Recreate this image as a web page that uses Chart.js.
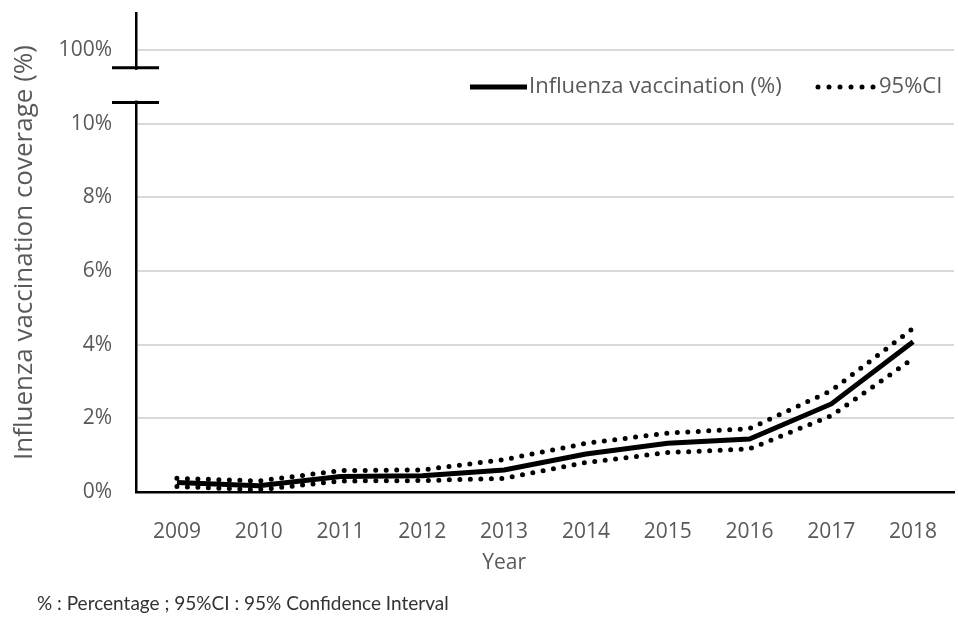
<!DOCTYPE html>
<html>
<head>
<meta charset="utf-8">
<script src="https://cdn.jsdelivr.net/npm/chart.js@4.4.1/dist/chart.umd.min.js"></script>
<style>
  html, body { margin: 0; padding: 0; background: #ffffff; }
  #wrap { position: relative; width: 958px; height: 625px; }
</style>
</head>
<body>
<div id="wrap"><canvas id="c" width="958" height="625"></canvas></div>
<script>
const years = ['2009','2010','2011','2012','2013','2014','2015','2016','2017','2018'];
const coverage = [0.26, 0.17, 0.42, 0.44, 0.60, 1.03, 1.32, 1.44, 2.39, 4.08];
const ciUpper  = [0.37, 0.30, 0.58, 0.60, 0.88, 1.32, 1.60, 1.72, 2.75, 4.44];
const ciLower  = [0.15, 0.06, 0.30, 0.31, 0.37, 0.80, 1.07, 1.17, 2.07, 3.62];
const yTickValues = [0, 2, 4, 6, 8, 10, 12];
const yTickLabels = ['0%', '2%', '4%', '6%', '8%', '10%', '100%'];
const seriesNames = ['Influenza vaccination (%)', '95%CI'];
const axisTitles = { x: 'Year', y: 'Influenza vaccination coverage (%)' };
const footnote = '% : Percentage ; 95%CI : 95% Confidence Interval';

const FONT = '"Open Sans", sans-serif';
const TXT = '#595959';

const decor = {
  id: 'decor',
  afterDraw(chart) {
    const ctx = chart.ctx;
    const y = chart.scales.y;
    const ax = chart.chartArea.left;
    const yTop = y.getPixelForValue(12) + 18;
    const yBot = y.getPixelForValue(10) - 21;
    ctx.save();
    // axis break
    ctx.fillStyle = '#ffffff';
    ctx.fillRect(ax - 4, yTop + 2, 8, yBot - yTop - 4);
    ctx.strokeStyle = '#000000';
    ctx.lineWidth = 3;
    ctx.beginPath();
    ctx.moveTo(ax - 24, yTop); ctx.lineTo(ax + 23, yTop);
    ctx.moveTo(ax - 24, yBot); ctx.lineTo(ax + 23, yBot);
    ctx.stroke();

    // legend
    const ly = 87;
    ctx.lineCap = 'butt';
    ctx.lineWidth = 5;
    ctx.beginPath();
    ctx.moveTo(470, ly); ctx.lineTo(527, ly);
    ctx.stroke();
    ctx.font = '22px ' + FONT;
    ctx.fillStyle = TXT;
    ctx.textBaseline = 'middle';
    ctx.textAlign = 'left';
    ctx.fillText(seriesNames[0], 529, ly);
    ctx.lineCap = 'round';
    ctx.setLineDash([0, 11]);
    ctx.beginPath();
    ctx.moveTo(818, ly); ctx.lineTo(874, ly);
    ctx.stroke();
    ctx.setLineDash([]);
    ctx.fillText(seriesNames[1], 879, ly);

    // x axis title
    ctx.font = '21px ' + FONT;
    ctx.textAlign = 'center';
    ctx.fillText(axisTitles.x, chart.scales.x.getPixelForValue(4), 563);

    // footnote
    ctx.font = '19px Lato, ' + FONT;
    ctx.fillStyle = '#333333';
    ctx.textAlign = 'left';
    ctx.textBaseline = 'alphabetic';
    ctx.fillText(footnote, 37, 610);
    ctx.restore();
  }
};

new Chart(document.getElementById('c'), {
  type: 'line',
  data: {
    labels: years,
    datasets: [
      { label: seriesNames[1] + ' upper', data: ciUpper, borderColor: '#000', borderWidth: 5,
        borderDash: [0, 10.5], borderCapStyle: 'round', pointRadius: 0, tension: 0, fill: false },
      { label: seriesNames[1] + ' lower', data: ciLower, borderColor: '#000', borderWidth: 5,
        borderDash: [0, 10.5], borderCapStyle: 'round', pointRadius: 0, tension: 0, fill: false },
      { label: seriesNames[0], data: coverage, borderColor: '#000', borderWidth: 5,
        pointRadius: 0, tension: 0, fill: false }
    ]
  },
  options: {
    responsive: false,
    animation: false,
    layout: { padding: { top: 13, right: 4, left: 0, bottom: 50 } },
    plugins: { legend: { display: false }, tooltip: { enabled: false } },
    scales: {
      x: {
        offset: true,
        afterFit(scale) { scale.height = 83; scale.paddingLeft = 0; scale.paddingRight = 0; },
        grid: { display: false, drawTicks: false },
        border: { display: true, color: '#000', width: 2.5 },
        ticks: { color: TXT, font: { family: FONT, size: 21 }, padding: 27, maxRotation: 0 }
      },
      y: {
        min: 0, max: 13,
        afterBuildTicks(scale) { scale.ticks = yTickValues.map(v => ({ value: v })); },
        afterFit(scale) { scale.width = 136; scale.paddingTop = 0; scale.paddingBottom = 0; },
        grid: { color: '#d9d9d9', lineWidth: 2, drawTicks: false },
        border: { display: true, color: '#000', width: 2.5 },
        ticks: {
          color: TXT, font: { family: FONT, size: 21 }, padding: 24,
          callback(v) { const i = yTickValues.indexOf(v); return i >= 0 ? yTickLabels[i] : ''; }
        },
        title: { display: true, text: axisTitles.y, color: TXT, font: { family: FONT, size: 26 }, padding: { top: 9, bottom: 0 } }
      }
    }
  },
  plugins: [decor]
});
</script>
</body>
</html>
